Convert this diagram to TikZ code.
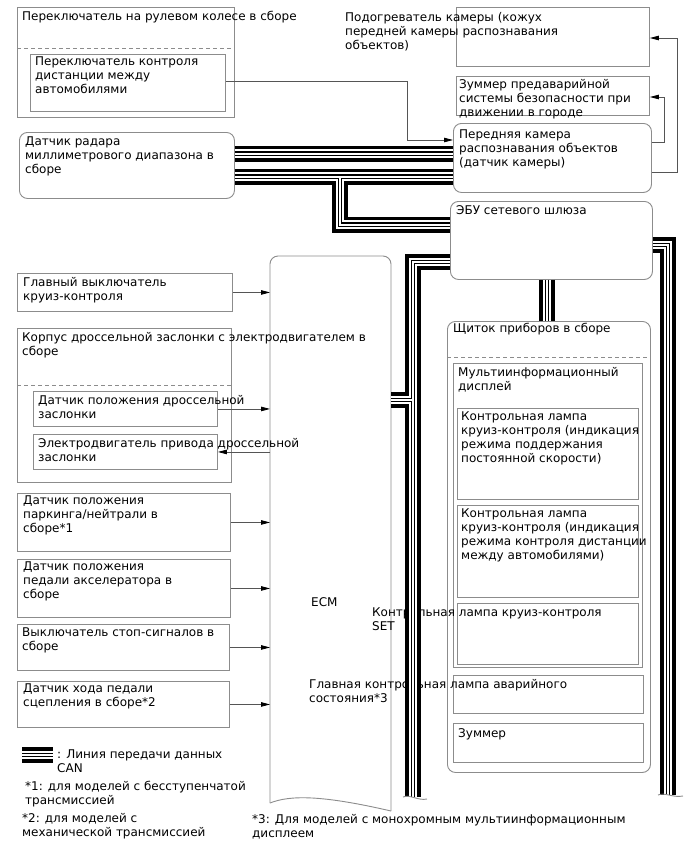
\documentclass[tikz,border=0pt]{standalone}
\usepackage{fontspec}
\setmainfont{DejaVu Sans}
\usetikzlibrary{arrows.meta}
\definecolor{boxgray}{HTML}{8C8C8C}
\definecolor{wiregray}{HTML}{555555}
\begin{document}
\begin{tikzpicture}[
	x=1pt, y=-1pt,
	box/.style={draw=boxgray, line width=0.9pt, anchor=north west, inner sep=0pt},
	rbox/.style={box, rounded corners=8pt},
	txt/.style={anchor=north west, align=left, inner sep=0pt,
		font=\fontsize{12}{14}\selectfont},
	arr/.style={draw=wiregray, line width=0.8pt,
		-{Triangle[length=9pt,width=4.5pt,color=black]}},
	divider/.style={draw=boxgray, line width=0.8pt, dash pattern=on 4pt off 3pt},
	edge/.style={draw=boxgray, line width=0.9pt},
]
\fill[white] (0,0) rectangle (688,852);
\useasboundingbox (0,0) rectangle (688,852);

% top: steering wheel switch, camera group
\node[box, minimum width=217, minimum height=110] (sw) at (17,7) {};
\draw[divider] (17,48) -- (234,48);
\node[box, minimum width=195, minimum height=57] (dist) at (30,54) {};
\node[box, minimum width=193, minimum height=59] (heater) at (456,7) {};
\node[box, minimum width=193, minimum height=39] (zbuz) at (456,76) {};
\node[rbox, minimum width=198, minimum height=69] (camera) at (453,123) {};
\node[rbox, minimum width=215, minimum height=66] (radar) at (19,132) {};
\node[rbox, minimum width=202, minimum height=78] (gateway) at (450,201) {};

% ECM inputs
\node[box, minimum width=215, minimum height=38] (cruise) at (17,273) {};
\node[box, minimum width=214, minimum height=154] (thbody) at (17,328) {};
\draw[divider] (17,385) -- (231,385);
\node[box, minimum width=184, minimum height=35] (tps) at (33,391) {};
\node[box, minimum width=184, minimum height=35] (motor) at (33,434) {};
\node[box, minimum width=213, minimum height=58] (pnp) at (17,493) {};
\node[box, minimum width=213, minimum height=58] (accel) at (17,559) {};
\node[box, minimum width=212, minimum height=46] (stop) at (17,624) {};
\node[box, minimum width=212, minimum height=46] (clutch) at (17,681) {};

% ECM
\node[anchor=north west, inner sep=0pt, minimum width=121, minimum height=547] (ecm) at (270,256) {};
\draw[edge, rounded corners=8pt] (270,803) -- (270,256) -- (391,256) -- (391,811);
\draw[edge] (270,803) .. controls (290,795) and (322,795) .. (391,811);

% combination meter
\node[rbox, minimum width=203, minimum height=451] (cluster) at (447,321) {};
\draw[divider] (447,357) -- (650,357);
\node[box, minimum width=189, minimum height=304] (mid) at (453,363) {};
\node[box, minimum width=181, minimum height=91] (lamp1) at (457,408) {};
\node[box, minimum width=181, minimum height=92] (lamp2) at (457,505) {};
\node[box, minimum width=181, minimum height=61] (lamp3) at (457,603) {};
\node[box, minimum width=190, minimum height=38] (master) at (453,675) {};
\node[box, minimum width=190, minimum height=39] (buzz) at (453,723) {};

% texts
\node[txt] (swT) at (22,11) {Переключатель на рулевом колесе в сборе};
\node[txt] (distT) at (35,57) {Переключатель контроля\\дистанции между\\автомобилями};
\node[txt] (heaterT) at (345,12) {Подогреватель камеры (кожух\\передней камеры распознавания\\объектов)};
\node[txt] (zbuzT) at (459,79) {Зуммер предаварийной\\системы безопасности при\\движении в городе};
\node[txt] (cameraT) at (459,130) {Передняя камера\\распознавания объектов\\(датчик камеры)};
\node[txt] (radarT) at (25,137) {Датчик радара\\миллиметрового диапазона в\\сборе};
\node[txt] (gatewayT) at (456,205) {ЭБУ сетевого шлюза};
\node[txt] (cruiseT) at (23,277) {Главный выключатель\\круиз-контроля};
\node[txt] (thbodyT) at (22,332) {Корпус дроссельной заслонки с электродвигателем в\\сборе};
\node[txt] (tpsT) at (38,395) {Датчик положения дроссельной\\заслонки};
\node[txt] (motorT) at (38,438) {Электродвигатель привода дроссельной\\заслонки};
\node[txt] (pnpT) at (23,496) {Датчик положения\\паркинга/нейтрали в\\сборе*1};
\node[txt] (accelT) at (23,562) {Датчик положения\\педали акселератора в\\сборе};
\node[txt] (stopT) at (22,628) {Выключатель стоп-сигналов в\\сборе};
\node[txt] (clutchT) at (23,684) {Датчик хода педали\\сцепления в сборе*2};
\node[txt] (ecmT) at (311,597) {ECM};
\node[txt] (clusterT) at (453,323) {Щиток приборов в сборе};
\node[txt] (midT) at (458,367) {Мультиинформационный\\дисплей};
\node[txt] (lamp1T) at (461,412) {Контрольная лампа\\круиз-контроля (индикация\\режима поддержания\\постоянной скорости)};
\node[txt] (lamp2T) at (461,509) {Контрольная лампа\\круиз-контроля (индикация\\режима контроля дистанции\\между автомобилями)};
\node[txt] (lamp3T) at (372,608) {Контрольная лампа круиз-контроля\\SET};
\node[txt] (masterT) at (309,679) {Главная контрольная лампа аварийного\\состояния*3};
\node[txt] (buzzT) at (458,728) {Зуммер};

% signal wires
\draw[arr] (dist.east |- 0,81) -| (407,140) -- (camera.west |- 0,140);
\draw[arr] (camera.east |- 0,142) -| (664,97) -- (zbuz.east |- 0,97);
\draw[arr] (camera.east |- 0,172) -| (677,38) -- (heater.east |- 0,38);
\foreach \b in {cruise,tps,pnp,accel,stop,clutch}
	\draw[arr] (\b.east) -- (ecm.west |- \b.east);
\draw[arr] (ecm.west |- motor.east) -- (motor.east);

% CAN lines
\coordinate (legA) at (22,755);
\coordinate (legB) at (53,755);
\foreach \w/\c in {16/black, 8.5/white, 4.5/black, 2/white} {
	\draw[\c, line width=\w pt]
		(radar.east |- 0,153.5) -- (camera.west |- 0,153.5)
		(radar.east |- 0,176.5) -- (camera.west |- 0,176.5)
		(340,176.5) |- (gateway.west |- 0,224.5)
		(gateway.west |- 0,262) -| (413,797)
		(413,400) -- (ecm.east |- 0,400)
		(gateway.south -| 547,0) -- (cluster.north -| 547,0)
		(gateway.east |- 0,245) -| (668,795)
		(legA) -- (legB);
}
\draw[edge] (403,797) .. controls (410,794) and (418,801) .. (427,799);
\draw[edge] (658,795) .. controls (665,792) and (673,798) .. (683,796);

% legend and notes
\node[txt] (legT) at (57,750) {: Линия передачи данных\\CAN};
\node[txt] (note1) at (25,781) {*1: для моделей с бесступенчатой\\трансмиссией};
\node[txt] (note2) at (22,813) {*2: для моделей с\\механической трансмиссией};
\node[txt] (note3) at (252,814) {*3: Для моделей с монохромным мультиинформационным\\дисплеем};
\end{tikzpicture}
\end{document}
